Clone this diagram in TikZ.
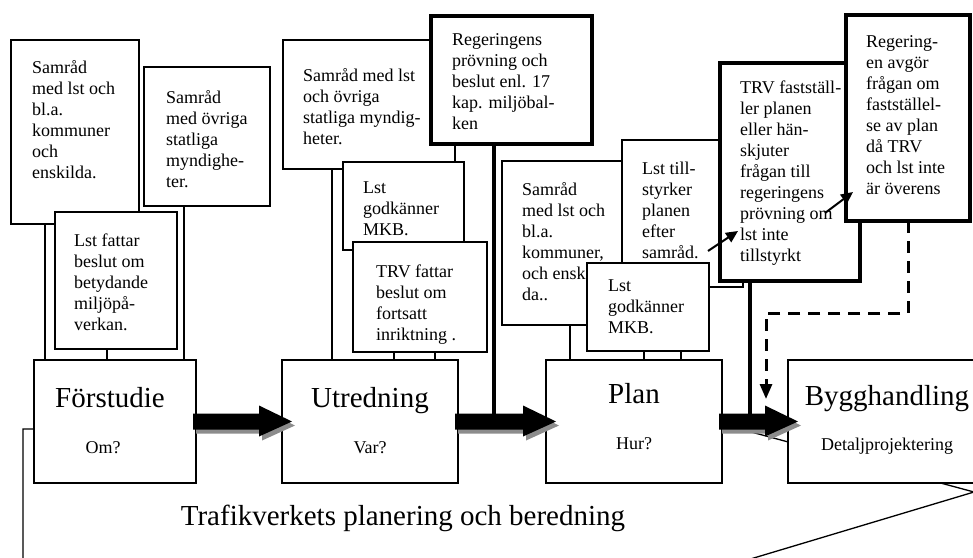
\documentclass[tikz,border=0pt]{standalone}
\usepackage{fontspec}
\setmainfont{Liberation Serif}
\usetikzlibrary{calc,arrows.meta}
\newcommand\blockarr[4]{%
  \fill[#4] ($(#1)+(-3,-8)+(#3)$) -- ($(#2)+(-23,-8)+(#3)$) -- ($(#2)+(-23,-16)+(#3)$)
    -- ($(#2)+(10,0)+(#3)$) -- ($(#2)+(-23,15)+(#3)$) -- ($(#2)+(-23,8)+(#3)$)
    -- ($(#1)+(-3,8)+(#3)$) -- cycle;}
\begin{document}
\begin{tikzpicture}[x=1pt,y=-1pt,
  tbox/.style={draw, line width=1.3pt, fill=white, anchor=north west, inner sep=0pt, outer sep=0pt},
  thbox/.style={tbox, line width=4pt},
  txt/.style={anchor=north west, inner sep=0pt, align=left, font=\fontsize{18}{21}\selectfont},
  big/.style={anchor=base, inner sep=0pt, font=\fontsize{29}{34}\selectfont},
  small/.style={anchor=base, inner sep=0pt, font=\fontsize{18}{21}\selectfont},
  conn/.style={line width=1.3pt},
  thk/.style={line width=4pt},
  dsh/.style={line width=3pt, dash pattern=on 12pt off 8pt, line join=miter, -{Triangle[length=15pt,width=12pt]}},
  sarr/.style={line width=2pt, -{Triangle[length=12pt,width=11pt]}}]
\useasboundingbox (0,0) rectangle (973,557);
\clip (0,0) rectangle (973,557);

% background callout outline
\draw[conn] (23,575) -- (23,429) -- (740,429) -- (974,492) -- (697,575);

% box coordinates (needed before connectors) -- place nodes first in a hidden pass
\path node[tbox, draw=none, fill=none, minimum width=128, minimum height=184] (A1) at (11,40) {}
      node[tbox, draw=none, fill=none, minimum width=126, minimum height=139] (A2) at (144,67) {}
      node[tbox, draw=none, fill=none, minimum width=122, minimum height=137] (A3) at (55,212) {}
      node[tbox, draw=none, fill=none, minimum width=162, minimum height=123] (F) at (34,360) {}
      node[tbox, draw=none, fill=none, minimum width=172, minimum height=129] (U1) at (283,40) {}
      node[tbox, draw=none, fill=none, minimum width=161, minimum height=128] (U2) at (431,16) {}
      node[tbox, draw=none, fill=none, minimum width=121, minimum height=88] (U3) at (343,162) {}
      node[tbox, draw=none, fill=none, minimum width=134, minimum height=110] (U4) at (353,242) {}
      node[tbox, draw=none, fill=none, minimum width=176, minimum height=123] (U) at (282,360) {}
      node[tbox, draw=none, fill=none, minimum width=158, minimum height=164] (P1) at (502,161) {}
      node[tbox, draw=none, fill=none, minimum width=121, minimum height=147] (P2) at (622,140) {}
      node[tbox, draw=none, fill=none, minimum width=122, minimum height=88] (P3) at (587,263) {}
      node[tbox, draw=none, fill=none, minimum width=140, minimum height=218] (P4) at (720,63) {}
      node[tbox, draw=none, fill=none, minimum width=124, minimum height=206] (P5) at (846,15) {}
      node[tbox, draw=none, fill=none, minimum width=176, minimum height=123] (P) at (546,360) {}
      node[tbox, draw=none, fill=none, minimum width=200, minimum height=123] (BH) at (788,360) {};

% thin connectors
\draw[conn] (A1.south -| 45,0) -- (F.north -| 45,0);
\draw[conn] (A3.south -| 107,0) -- (F.north -| 107,0);
\draw[conn] (A2.south -| 184,0) -- (F.north -| 184,0);
\draw[conn] (U1.south -| 332,0) -- (U.north -| 332,0);
\draw[conn] (U3.south -| 394,0) -- (U.north -| 394,0);
\draw[conn] (U4.south -| 435,0) -- (U.north -| 435,0);
\draw[conn] (P1.south -| 570,0) -- (P.north -| 570,0);
\draw[conn] (P2.south -| 644,0) -- (P.north -| 644,0);
\draw[conn] (P3.south -| 681,0) -- (P.north -| 681,0);
% thick connectors
\draw[thk] (U2.south -| 494,0) -- (U.east -| 494,0);
\draw[thk] (P4.south -| 750,0) -- (P.east -| 750,0);
% dashed connector
\coordinate (dtip) at (766,399);
\draw[dsh] (P5.south -| 908,0) -- (908,313) -| (dtip);

% Förstudie column
\node[tbox, minimum width=128, minimum height=184] (A1b) at (11,40) {};
\node[txt] (A1t) at (32,60) {Samråd\\med lst och\\bl.a.\\kommuner\\och\\enskilda.};
\node[tbox, minimum width=126, minimum height=139] (A2b) at (144,67) {};
\node[txt] (A2t) at (166,90) {Samråd\\med övriga\\statliga\\myndighe-\\ter.};
\node[tbox, minimum width=122, minimum height=137] (A3b) at (55,212) {};
\node[txt] (A3t) at (74,234) {Lst fattar\\beslut om\\betydande\\miljöpå-\\verkan.};
\node[tbox, minimum width=162, minimum height=123] (Fb) at (34,360) {};
\node[big] (Ft) at (110,407) {Förstudie};
\node[small] (Fs) at (103,453) {Om?};

% Utredning column
\node[tbox, minimum width=172, minimum height=129] (U1b) at (283,40) {};
\node[txt] (U1t) at (303,68) {Samråd med lst\\och övriga\\statliga myndig-\\heter.};
\node[thbox, minimum width=161, minimum height=128] (U2b) at (431,16) {};
\node[txt] (U2t) at (452,33) {Regeringens\\prövning och\\beslut enl. 17\\kap. miljöbal-\\ken};
\node[tbox, minimum width=121, minimum height=88] (U3b) at (343,162) {};
\node[txt] (U3t) at (363,182) {Lst\\godkänner\\MKB.};
\node[tbox, minimum width=134, minimum height=110] (U4b) at (353,242) {};
\node[txt] (U4t) at (376,265) {TRV fattar\\beslut om\\fortsatt\\inriktning .};
\node[tbox, minimum width=176, minimum height=123] (Ub) at (282,360) {};
\node[big] (Ut) at (370,407) {Utredning};
\node[small] (Us) at (370,453) {Var?};

% Plan column
\node[tbox, minimum width=158, minimum height=164] (P1b) at (502,161) {};
\node[txt] (P1t) at (522,182) {Samråd\\med lst och\\bl.a.\\kommuner,\\och enskil-\\da..};
\node[tbox, minimum width=121, minimum height=147] (P2b) at (622,140) {};
\node[txt] (P2t) at (642,162) {Lst till-\\styrker\\planen\\efter\\samråd.};
\node[tbox, minimum width=122, minimum height=88] (P3b) at (587,263) {};
\node[txt] (P3t) at (608,280) {Lst\\godkänner\\MKB.};
\node[thbox, minimum width=140, minimum height=218] (P4b) at (720,63) {};
\node[txt] (P4t) at (740,81) {TRV fastställ-\\ler planen\\eller hän-\\skjuter\\frågan till\\regeringens\\prövning om\\lst inte\\tillstyrkt};
\node[thbox, minimum width=124, minimum height=206] (P5b) at (846,15) {};
\node[txt] (P5t) at (866,35) {Regering-\\en avgör\\frågan om\\fastställel-\\se av plan\\då TRV\\och lst inte\\är överens};
\node[tbox, minimum width=176, minimum height=123] (Pb) at (546,360) {};
\node[big] (Pt) at (634,403) {Plan};
\node[small] (Ps) at (634,449) {Hur?};

% Bygghandling
\node[tbox, minimum width=200, minimum height=123] (BHb) at (788,360) {};
\node[big] (BHt) at (887,405) {Bygghandling};
\node[small] (BHs) at (887,450) {Detaljprojektering};

% caption
\node[big] (cap) at (403,525) {Trafikverkets planering och beredning};

% big block arrows with shadow
\blockarr{F.east}{U.west}{3,4}{black!45}
\blockarr{F.east}{U.west}{0,0}{black}
\blockarr{U.east}{P.west}{3,4}{black!45}
\blockarr{U.east}{P.west}{0,0}{black}
\blockarr{P.east}{BH.west}{3,4}{black!45}
\blockarr{P.east}{BH.west}{0,0}{black}

% small arrows
\coordinate (sa1) at (708,251);
\coordinate (ea1) at (738,231);
\coordinate (sa2) at (825,213);
\coordinate (ea2) at (853,192);
\draw[sarr] (sa1) -- (ea1);
\draw[sarr] (sa2) -- (ea2);
\end{tikzpicture}
\end{document}
